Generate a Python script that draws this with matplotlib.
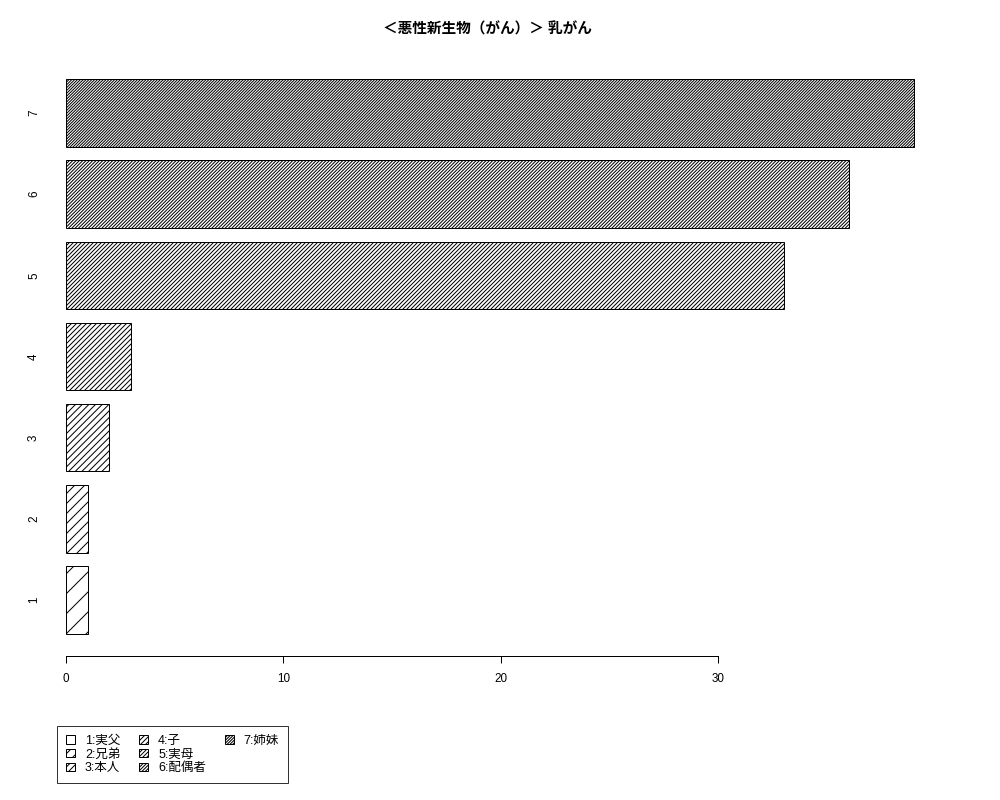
import matplotlib
matplotlib.use("Agg")
import matplotlib.pyplot as plt
from matplotlib.patches import Patch

plt.rcParams["font.family"] = ["Liberation Sans", "Noto Sans CJK JP", "DejaVu Sans"]
plt.rcParams["hatch.linewidth"] = 0.6
plt.rcParams["hatch.color"] = "black"

# ── Data ──────────────────────────────────────────────────────────────────────
title = "＜悪性新生物（がん）＞ 乳がん"
categories = ["1", "2", "3", "4", "5", "6", "7"]
legend_labels = ["1:実父", "2:兄弟", "3:本人", "4:子", "5:実母", "6:配偶者", "7:姉妹"]
counts = [1, 1, 2, 3, 33, 36, 39]
x_ticks = [0, 10, 20, 30]

# R-style barplot layout: width 1, space 0.2
ypos = [0.7 + 1.2 * i for i in range(len(categories))]
# hatch gets denser bar by bar (like R's density argument)
hatches = ["//" * (i + 1) for i in range(len(categories))]

DPI = 120
fig = plt.figure(figsize=(1000 / DPI, 800 / DPI), dpi=DPI)
ax = fig.add_axes([0.032, 0.18, 0.916, 0.74875])

for y, v, h in zip(ypos, counts, hatches):
    ax.barh(y, v, height=1.0, color="white", edgecolor="black",
            hatch=h, linewidth=0.6)

ax.set_xlim(-1.56, 40.56)
ax.set_ylim(-0.128, 8.728)

for s in ["top", "right", "left"]:
    ax.spines[s].set_visible(False)
ax.spines["bottom"].set_bounds(0, 30)
ax.spines["bottom"].set_linewidth(0.6)

ax.set_xticks(x_ticks)
ax.tick_params(axis="x", length=4.2, width=0.6, pad=6, labelsize=7)
ax.set_yticks(ypos, categories)
ax.tick_params(axis="y", length=0, pad=-4.8, labelsize=7, labelrotation=90)
for lbl in ax.get_yticklabels():
    lbl.set_va("center")

fig.text(0.487, 1 - 29 / 800, title, ha="center", va="center",
         fontsize=8.8, fontweight="bold")

# ── Legend (column-major like R, pad to 3x3) ─────────────────────────────────
handles = [Patch(facecolor="white", edgecolor="black", hatch=h, linewidth=0.6)
           for h in hatches]
labels = list(legend_labels)
for _ in range(2):
    handles.append(Patch(facecolor="none", edgecolor="none"))
    labels.append("")

leg = fig.legend(handles, labels, ncol=3, loc="upper left",
                 bbox_to_anchor=(0.057, 1 - 726 / 800),
                 bbox_transform=fig.transFigure,
                 fontsize=7.5, frameon=True, fancybox=False,
                 edgecolor="black", handlelength=0.72, handleheight=0.64,
                 handletextpad=0.8, columnspacing=1.5, labelspacing=0.13,
                 borderpad=0.72, borderaxespad=0)
leg.get_frame().set_linewidth(0.6)

fig.savefig("out.png", dpi=DPI)
